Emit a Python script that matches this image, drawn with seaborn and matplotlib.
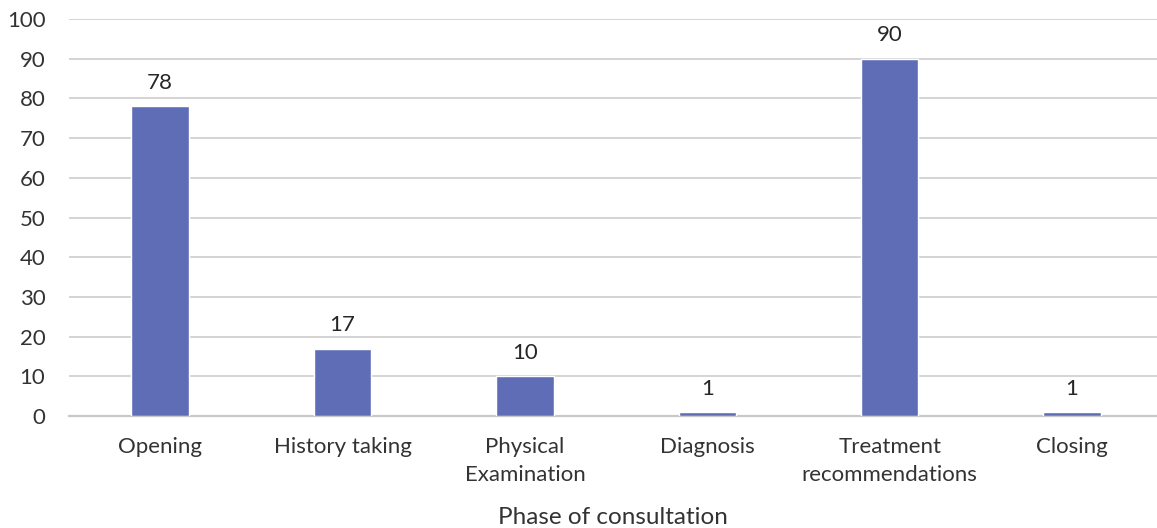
import pandas as pd
import matplotlib.pyplot as plt
import seaborn as sns

sns.set_style("white")
plt.rcParams['font.family'] = ['Lato', 'DejaVu Sans']

phases = ['Opening', 'History taking', 'Physical\nExamination', 'Diagnosis',
          'Treatment\nrecommendations', 'Closing']
counts = [78, 17, 10, 1, 90, 1]

df = pd.DataFrame({'phase': phases, 'count': counts})

fig = plt.figure(figsize=(11.57, 5.28), dpi=100)
ax = fig.add_axes([0.0596, 0.212, 0.9404, 0.752])

sns.barplot(data=df, x='phase', y='count', color='#5F6DB7', saturation=1,
            width=0.315, ax=ax, zorder=3)

for i, v in enumerate(counts):
    ax.text(i, v + 3.4, str(v), ha='center', va='bottom', fontsize=16, color='#262626')

ax.set_ylim(0, 100)
ax.set_xlim(-0.5, 5.466)
ax.set_yticks(range(0, 101, 10))
ax.yaxis.grid(True, color='#d4d4d4', linewidth=1.4, zorder=0)
ax.set_axisbelow(True)
for s in ['top', 'right', 'left']:
    ax.spines[s].set_visible(False)
ax.spines['bottom'].set_color('#c8c8c8')
ax.spines['bottom'].set_linewidth(1.6)
ax.tick_params(axis='both', length=0, labelsize=16, labelcolor='#333333')
ax.tick_params(axis='x', pad=15)
ax.tick_params(axis='y', pad=17)
for lab in ax.get_xticklabels():
    lab.set_linespacing(1.5)
ax.set_ylabel('')
ax.set_xlabel('Phase of consultation', fontsize=17.5, color='#333333', labelpad=16)

plt.savefig('out.png', dpi=100)
